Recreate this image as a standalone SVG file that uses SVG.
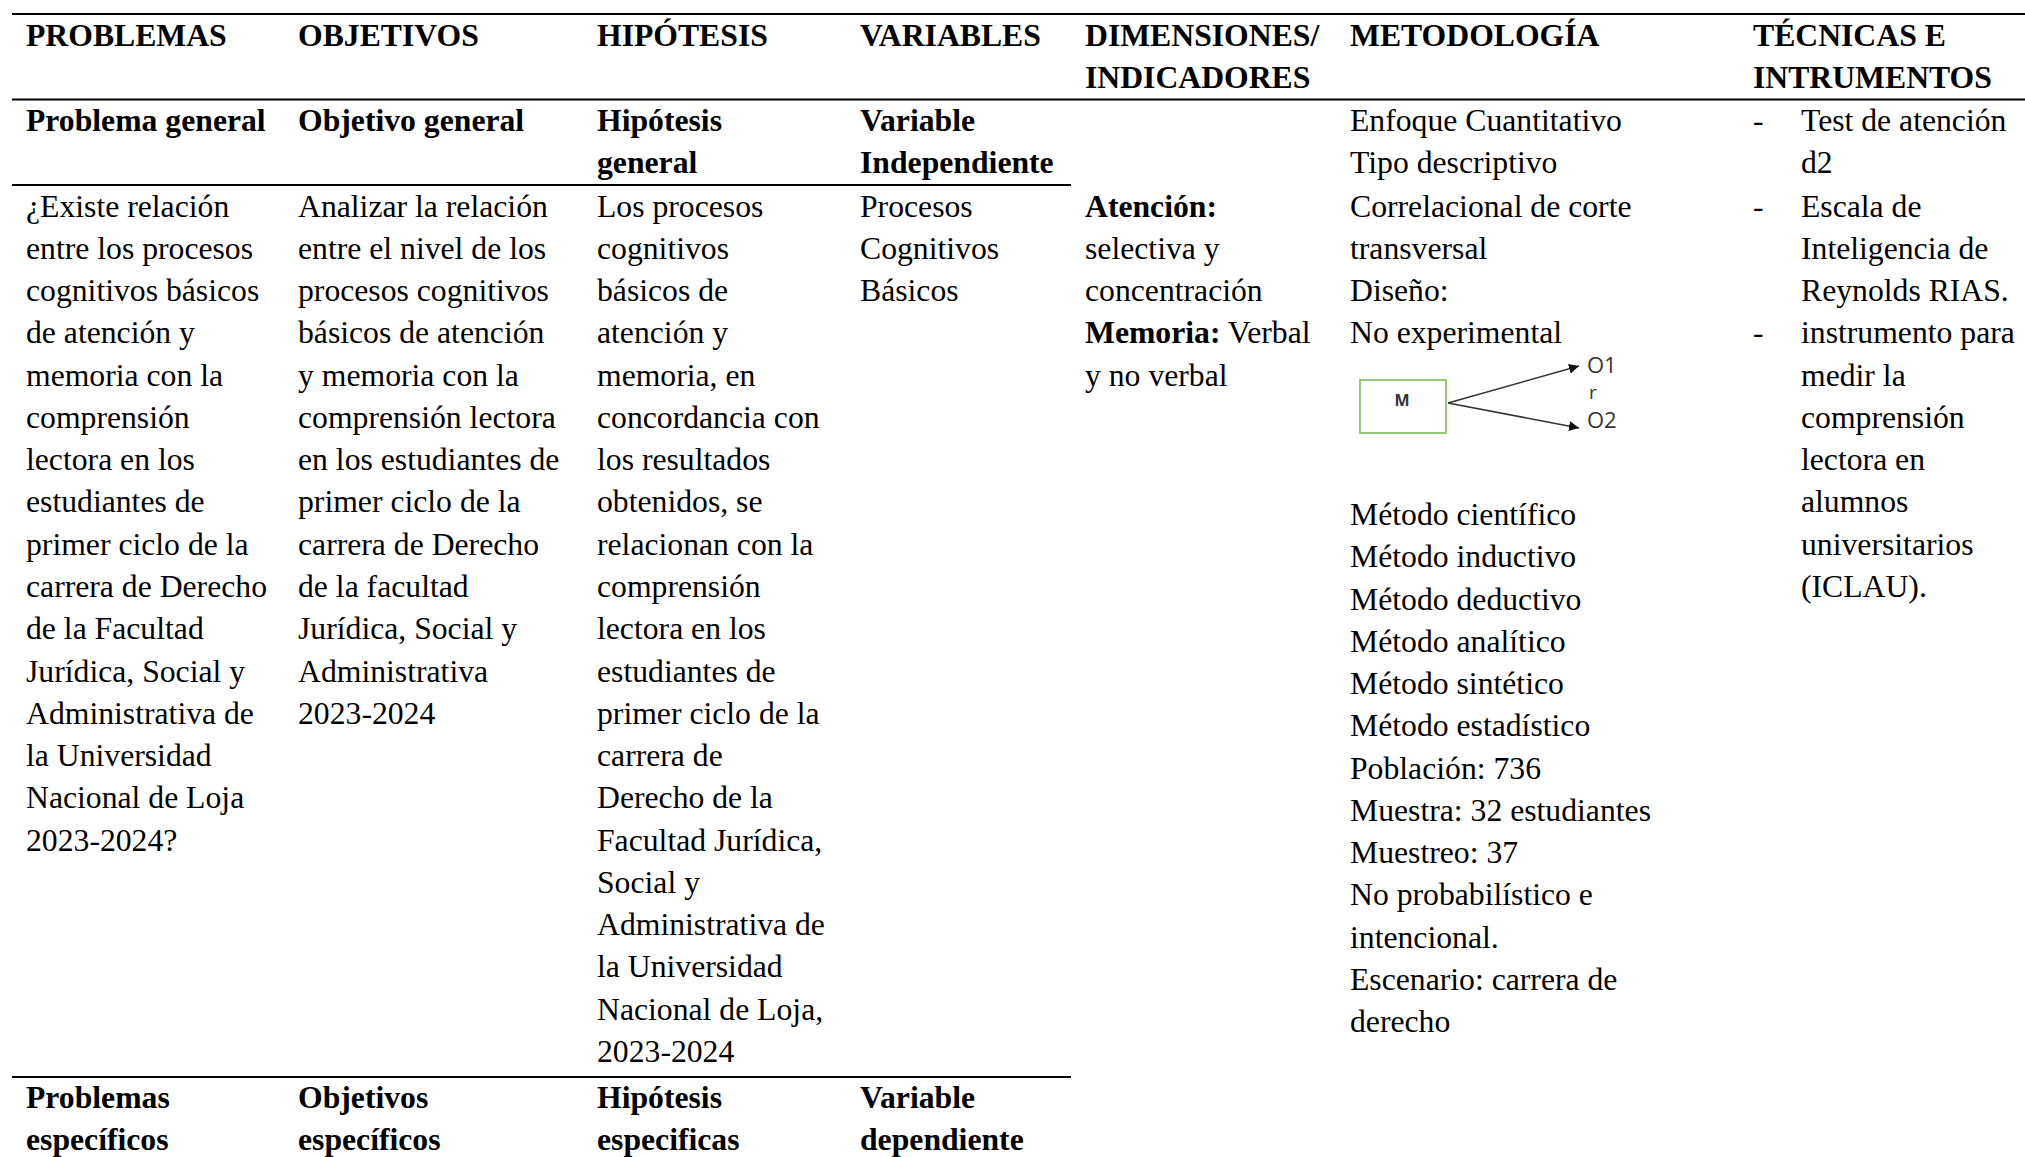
<svg xmlns="http://www.w3.org/2000/svg" width="2025" height="1157" viewBox="0 0 2025 1157">
<defs>
<style>
.t{font-family:"Liberation Serif","Times New Roman",serif;font-size:31.7px;fill:#000}
.b{font-weight:bold}
.s{font-family:"Open Sans","Noto Sans",sans-serif;fill:#333}
.rule{stroke:#000;stroke-width:2;fill:none}
.arr{stroke:#333;stroke-width:1.6;fill:none}
</style>
<marker id="ah" viewBox="0 0 10 10" refX="10" refY="5" markerWidth="10" markerHeight="10" markerUnits="userSpaceOnUse" orient="auto">
<path d="M0,0 L10,5 L0,10 z" fill="#111"/>
</marker>
</defs>
<rect width="2025" height="1157" fill="#fff"/>

<g id="rules">
<line class="rule" x1="12" y1="14" x2="2025" y2="14"/>
<line class="rule" x1="12" y1="99.5" x2="2025" y2="99.5"/>
<line class="rule" x1="12" y1="185" x2="1071" y2="185"/>
<line class="rule" x1="12" y1="1077" x2="1071" y2="1077"/>
</g>

<g id="col-problemas">
<text x="26" y="45.9" class="t b">PROBLEMAS</text>
<text x="26" y="131" class="t b">Problema general</text>
<text x="26" y="216.5" class="t">¿Existe relación</text>
<text x="26" y="258.8" class="t">entre los procesos</text>
<text x="26" y="301" class="t">cognitivos básicos</text>
<text x="26" y="343.3" class="t">de atención y</text>
<text x="26" y="385.6" class="t">memoria con la</text>
<text x="26" y="427.9" class="t">comprensión</text>
<text x="26" y="470.1" class="t">lectora en los</text>
<text x="26" y="512.4" class="t">estudiantes de</text>
<text x="26" y="554.7" class="t">primer ciclo de la</text>
<text x="26" y="596.9" class="t">carrera de Derecho</text>
<text x="26" y="639.2" class="t">de la Facultad</text>
<text x="26" y="681.5" class="t">Jurídica, Social y</text>
<text x="26" y="723.7" class="t">Administrativa de</text>
<text x="26" y="766" class="t">la Universidad</text>
<text x="26" y="808.3" class="t">Nacional de Loja</text>
<text x="26" y="850.6" class="t">2023-2024?</text>
<text x="26" y="1107.5" class="t b">Problemas</text>
<text x="26" y="1149.8" class="t b">específicos</text>
</g>

<g id="col-objetivos">
<text x="298" y="45.9" class="t b">OBJETIVOS</text>
<text x="298" y="131" class="t b">Objetivo general</text>
<text x="298" y="216.5" class="t">Analizar la relación</text>
<text x="298" y="258.8" class="t">entre el nivel de los</text>
<text x="298" y="301" class="t">procesos cognitivos</text>
<text x="298" y="343.3" class="t">básicos de atención</text>
<text x="298" y="385.6" class="t">y memoria con la</text>
<text x="298" y="427.9" class="t">comprensión lectora</text>
<text x="298" y="470.1" class="t">en los estudiantes de</text>
<text x="298" y="512.4" class="t">primer ciclo de la</text>
<text x="298" y="554.7" class="t">carrera de Derecho</text>
<text x="298" y="596.9" class="t">de la facultad</text>
<text x="298" y="639.2" class="t">Jurídica, Social y</text>
<text x="298" y="681.5" class="t">Administrativa</text>
<text x="298" y="723.7" class="t">2023-2024</text>
<text x="298" y="1107.5" class="t b">Objetivos</text>
<text x="298" y="1149.8" class="t b">específicos</text>
</g>

<g id="col-hipotesis">
<text x="597" y="45.9" class="t b">HIPÓTESIS</text>
<text x="597" y="131" class="t b">Hipótesis</text>
<text x="597" y="173.2" class="t b">general</text>
<text x="597" y="216.5" class="t">Los procesos</text>
<text x="597" y="258.8" class="t">cognitivos</text>
<text x="597" y="301" class="t">básicos de</text>
<text x="597" y="343.3" class="t">atención y</text>
<text x="597" y="385.6" class="t">memoria, en</text>
<text x="597" y="427.9" class="t">concordancia con</text>
<text x="597" y="470.1" class="t">los resultados</text>
<text x="597" y="512.4" class="t">obtenidos, se</text>
<text x="597" y="554.7" class="t">relacionan con la</text>
<text x="597" y="596.9" class="t">comprensión</text>
<text x="597" y="639.2" class="t">lectora en los</text>
<text x="597" y="681.5" class="t">estudiantes de</text>
<text x="597" y="723.7" class="t">primer ciclo de la</text>
<text x="597" y="766" class="t">carrera de</text>
<text x="597" y="808.3" class="t">Derecho de la</text>
<text x="597" y="850.6" class="t">Facultad Jurídica,</text>
<text x="597" y="892.8" class="t">Social y</text>
<text x="597" y="935.1" class="t">Administrativa de</text>
<text x="597" y="977.4" class="t">la Universidad</text>
<text x="597" y="1019.6" class="t">Nacional de Loja,</text>
<text x="597" y="1061.9" class="t">2023-2024</text>
<text x="597" y="1107.5" class="t b">Hipótesis</text>
<text x="597" y="1149.8" class="t b">especificas</text>
</g>

<g id="col-variables">
<text x="860" y="45.9" class="t b">VARIABLES</text>
<text x="860" y="131" class="t b">Variable</text>
<text x="860" y="173.2" class="t b">Independiente</text>
<text x="860" y="216.5" class="t">Procesos</text>
<text x="860" y="258.8" class="t">Cognitivos</text>
<text x="860" y="301" class="t">Básicos</text>
<text x="860" y="1107.5" class="t b">Variable</text>
<text x="860" y="1149.8" class="t b">dependiente</text>
</g>

<g id="col-dimensiones">
<text x="1085" y="45.9" class="t b">DIMENSIONES/</text>
<text x="1085" y="88.2" class="t b">INDICADORES</text>
<text x="1085" y="216.5" class="t b">Atención:</text>
<text x="1085" y="258.8" class="t">selectiva y</text>
<text x="1085" y="301" class="t">concentración</text>
<text x="1085" y="343.3" class="t"><tspan font-weight="bold">Memoria:</tspan> Verbal</text>
<text x="1085" y="385.6" class="t">y no verbal</text>
</g>

<g id="col-metodologia">
<text x="1350" y="45.9" class="t b">METODOLOGÍA</text>
<text x="1350" y="131" class="t">Enfoque Cuantitativo</text>
<text x="1350" y="173.2" class="t">Tipo descriptivo</text>
<text x="1350" y="216.5" class="t">Correlacional de corte</text>
<text x="1350" y="258.8" class="t">transversal</text>
<text x="1350" y="301" class="t">Diseño:</text>
<text x="1350" y="343.3" class="t">No experimental</text>
<text x="1350" y="525" class="t">Método científico</text>
<text x="1350" y="567.3" class="t">Método inductivo</text>
<text x="1350" y="609.5" class="t">Método deductivo</text>
<text x="1350" y="651.8" class="t">Método analítico</text>
<text x="1350" y="694.1" class="t">Método sintético</text>
<text x="1350" y="736.4" class="t">Método estadístico</text>
<text x="1350" y="778.6" class="t">Población: 736</text>
<text x="1350" y="820.9" class="t">Muestra: 32 estudiantes</text>
<text x="1350" y="863.2" class="t">Muestreo: 37</text>
<text x="1350" y="905.4" class="t">No probabilístico e</text>
<text x="1350" y="947.7" class="t">intencional.</text>
<text x="1350" y="990" class="t">Escenario: carrera de</text>
<text x="1350" y="1032.2" class="t">derecho</text>
</g>

<g id="node-M">
<rect x="1360" y="380" width="86" height="53" fill="#fff" stroke="#8cc46c" stroke-width="1.8"/>
<text x="1402" y="406" class="s" font-size="16" font-weight="bold" text-anchor="middle">M</text>
</g>
<g id="node-O1"><text x="1587" y="373" class="s" font-size="22">O1</text></g>
<g id="node-r"><text x="1589" y="399" class="s" font-size="19">r</text></g>
<g id="node-O2"><text x="1587" y="428" class="s" font-size="22">O2</text></g>
<g id="connectors">
<line class="arr" x1="1448" y1="403" x2="1579" y2="366" marker-end="url(#ah)"/>
<line class="arr" x1="1448" y1="403" x2="1579" y2="428" marker-end="url(#ah)"/>
</g>

<g id="col-tecnicas">
<text x="1753" y="45.9" class="t b">TÉCNICAS E</text>
<text x="1753" y="88.2" class="t b">INTRUMENTOS</text>
<text x="1753" y="131" class="t">-</text>
<text x="1801" y="131" class="t">Test de atención</text>
<text x="1801" y="173.2" class="t">d2</text>
<text x="1753" y="216.5" class="t">-</text>
<text x="1801" y="216.5" class="t">Escala de</text>
<text x="1801" y="258.8" class="t">Inteligencia de</text>
<text x="1801" y="301" class="t">Reynolds RIAS.</text>
<text x="1753" y="343.3" class="t">-</text>
<text x="1801" y="343.3" class="t">instrumento para</text>
<text x="1801" y="385.6" class="t">medir la</text>
<text x="1801" y="427.9" class="t">comprensión</text>
<text x="1801" y="470.1" class="t">lectora en</text>
<text x="1801" y="512.4" class="t">alumnos</text>
<text x="1801" y="554.7" class="t">universitarios</text>
<text x="1801" y="596.9" class="t">(ICLAU).</text>
</g>
</svg>
